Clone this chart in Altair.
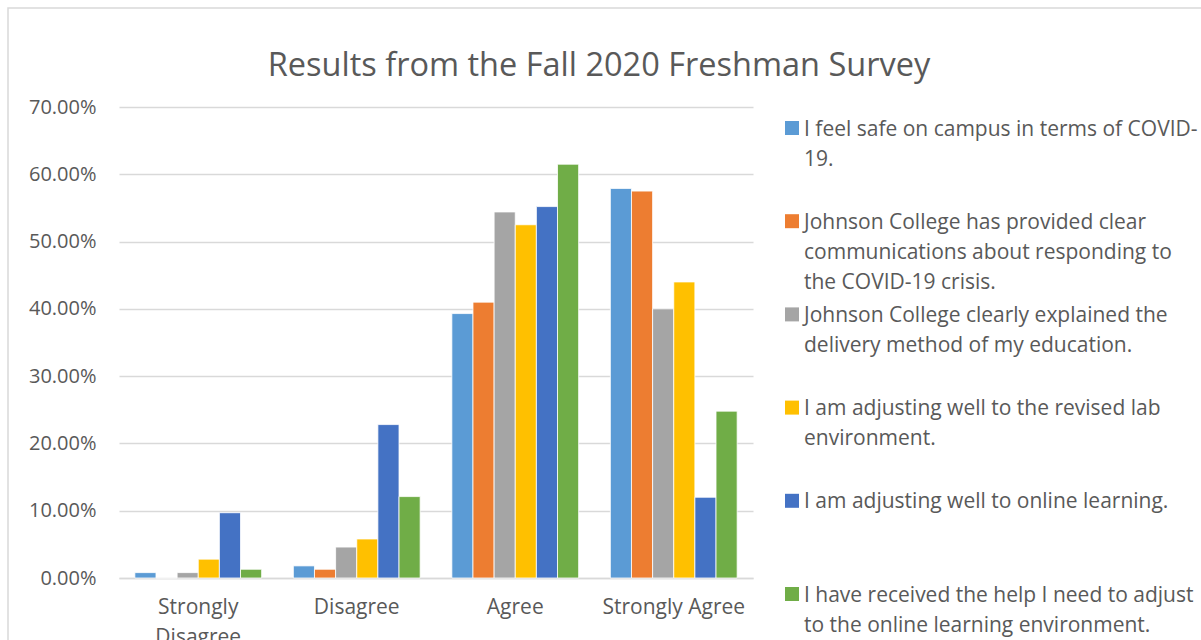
import altair as alt
import pandas as pd

categories = ["Strongly Disagree", "Disagree", "Agree", "Strongly Agree"]
series = [
    "I feel safe on campus in terms of COVID-19.",
    "Johnson College has provided clear communications about responding to the COVID-19 crisis.",
    "Johnson College clearly explained the delivery method of my education.",
    "I am adjusting well to the revised lab environment.",
    "I am adjusting well to online learning.",
    "I have received the help I need to adjust to the online learning environment.",
]
legend_labels = [
    "I feel safe on campus in terms of COVID-\n19.",
    "Johnson College has provided clear\ncommunications about responding to\nthe COVID-19 crisis.",
    "Johnson College clearly explained the\ndelivery method of my education.",
    "I am adjusting well to the revised lab\nenvironment.",
    "I am adjusting well to online learning.",
    "I have received the help I need to adjust\nto the online learning environment.",
]
values_safe = [0.008, 0.018, 0.393, 0.579]
values_comm = [0.000, 0.013, 0.410, 0.575]
values_delivery = [0.008, 0.046, 0.544, 0.400]
values_lab = [0.028, 0.058, 0.525, 0.440]
values_online = [0.097, 0.228, 0.552, 0.120]
values_help = [0.013, 0.121, 0.615, 0.248]
colors = ["#5B9BD5", "#ED7D31", "#A5A5A5", "#FFC000", "#4472C4", "#70AD47"]
title_text = "Results from the Fall 2020 Freshman Survey"

all_values = [values_safe, values_comm, values_delivery, values_lab, values_online, values_help]
rows = []
for s, vals in zip(series, all_values):
    for c, v in zip(categories, vals):
        rows.append({"category": c, "series": s, "value": v})
df = pd.DataFrame(rows)

leg = pd.DataFrame({"series": series, "label": legend_labels, "idx": list(range(len(series)))})

FONT = "Open Sans"
GRAY = "#595959"

color_scale = alt.Scale(domain=series, range=colors)

bars = alt.Chart(df).mark_bar(stroke="white", strokeWidth=0.8).encode(
    x=alt.X("category:N", sort=categories, title=None,
            scale=alt.Scale(paddingInner=0.2, paddingOuter=0.1),
            axis=alt.Axis(labelAngle=0, ticks=False, domainColor="#d9d9d9", domainWidth=1.5,
                          labelPadding=18, labelFontSize=21, labelColor=GRAY, labelFont=FONT,
                          labelLineHeight=30,
                          labelExpr="datum.value == 'Strongly Disagree' ? ['Strongly', 'Disagree'] : datum.value")),
    xOffset=alt.XOffset("series:N", sort=series, scale=alt.Scale(paddingInner=0, paddingOuter=0)),
    y=alt.Y("value:Q", title=None,
            scale=alt.Scale(domain=[0, 0.7], nice=False),
            axis=alt.Axis(format=".2%", values=[0, 0.1, 0.2, 0.3, 0.4, 0.5, 0.6, 0.7],
                          ticks=False, domain=False, gridColor="#d9d9d9", gridWidth=1.3,
                          labelPadding=23, labelFontSize=20, labelColor=GRAY, labelFont=FONT)),
    color=alt.Color("series:N", scale=color_scale, legend=None),
)

leg_y = alt.Y("idx:Q", scale=alt.Scale(domain=[0, 5], range=[21, 487], nice=False, zero=False), axis=None)

leg_squares = alt.Chart(leg).mark_square(size=196, opacity=1, filled=True).encode(
    x=alt.value(673),
    y=leg_y,
    color=alt.Color("series:N", scale=color_scale, legend=None),
)

leg_text = alt.Chart(leg).mark_text(
    align="left", baseline="alphabetic", dy=7.5, fontSize=21, font=FONT, color=GRAY,
    lineBreak="\n", lineHeight=30,
).encode(
    x=alt.value(685),
    y=leg_y,
    text="label:N",
)

frame_df = pd.DataFrame({"k": [0]})
frame = alt.Chart(frame_df).mark_rect(filled=False, stroke="#d9d9d9", strokeWidth=1.5).encode(
    x=alt.value(-111), x2=alt.value(1100), y=alt.value(-99), y2=alt.value(560)
)

title_df = pd.DataFrame({"t": [title_text]})
title = alt.Chart(title_df).mark_text(
    fontSize=32.5, font=FONT, color=GRAY, align="center", baseline="middle"
).encode(x=alt.value(480), y=alt.value(-41), text="t:N")

chart = alt.layer(frame, title, bars, leg_squares, leg_text).resolve_scale(
    y="independent"
).properties(
    width=634, height=471,
    padding={"left": 119, "top": 107, "right": 448, "bottom": 62},
    autosize=alt.AutoSizeParams(type="none"),
    background="white",
).configure_view(stroke=None)

chart.save("out.html", embed_options={"renderer": "svg", "actions": False})
